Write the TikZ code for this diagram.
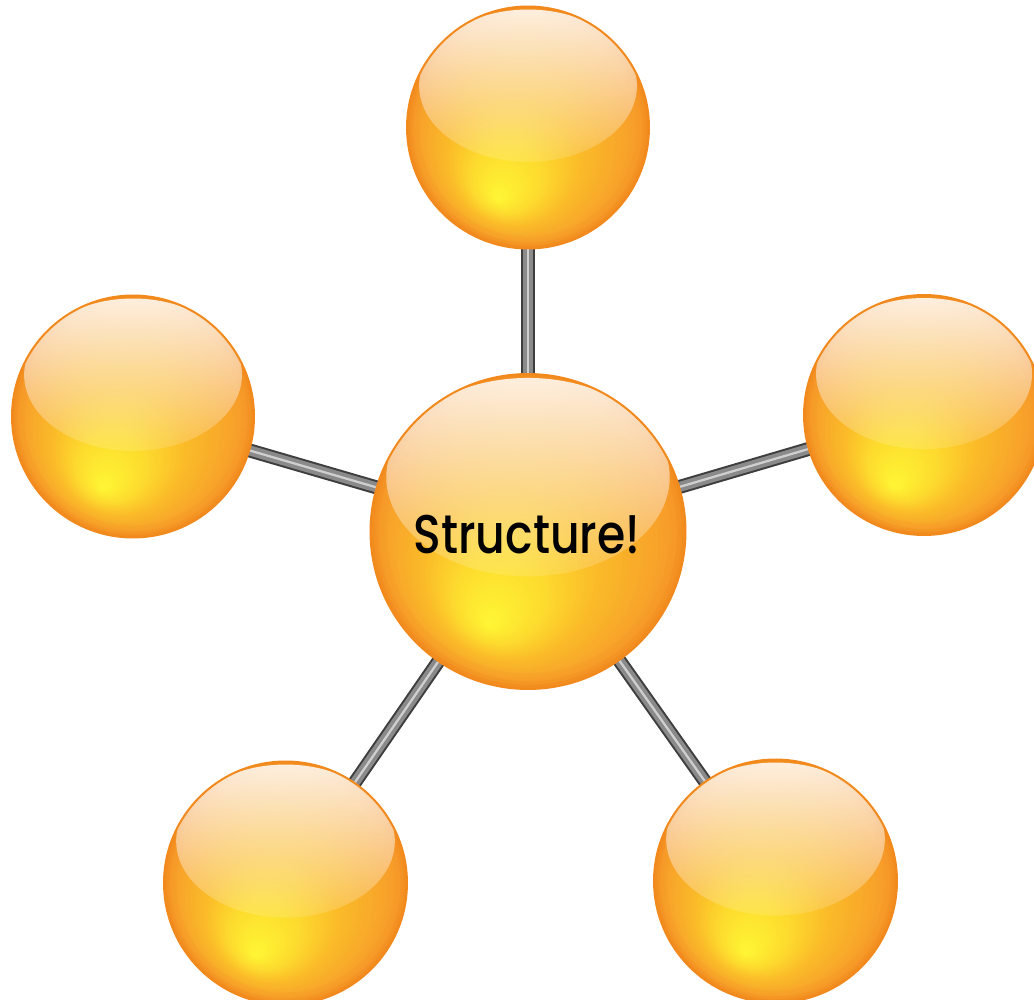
\documentclass[tikz,border=0pt]{standalone}
\usepackage{fontspec}
\setmainfont{Poppins}
\newfontfamily\labelfont{Poppins Medium}[FakeStretch=0.84]
\usetikzlibrary{calc,fadings}
\definecolor{ballA}{HTML}{F6982A}
\definecolor{ballB}{HTML}{FBBD29}
\definecolor{ballC}{HTML}{FDDA2E}
\definecolor{ballD}{HTML}{FFF734}
\definecolor{rimline}{HTML}{F2891C}
\definecolor{rodedge}{HTML}{3E3E3E}
\definecolor{rodmid}{HTML}{8A8A8A}
\definecolor{rodhl}{HTML}{CFCFCF}
\tikzfading[name=glossfade, top color=transparent!15, bottom color=transparent!88]
\newcommand\ballpaint[1]{%
  \begin{scope}[shift={(path picture bounding box.center)}]
    \foreach \i in {0,...,19}{%
      \pgfmathsetmacro\tt{0.46*\i/20}%
      \pgfmathtruncatemacro\mm{100*\i/20}%
      \fill[ballB!\mm!ballA] ({-0.25*\tt*#1*1cm},{-0.6*\tt*#1*1cm}) circle [radius={(1-\tt)*#1*1cm}];
    }
    \foreach \i in {0,...,12}{%
      \pgfmathsetmacro\tt{0.46+0.24*\i/13}%
      \pgfmathtruncatemacro\mm{100*\i/13}%
      \fill[ballC!\mm!ballB] ({-0.25*\tt*#1*1cm},{-0.6*\tt*#1*1cm}) circle [radius={(1-\tt)*#1*1cm}];
    }
    \foreach \i in {0,...,15}{%
      \pgfmathsetmacro\tt{0.7+0.3*\i/16}%
      \pgfmathtruncatemacro\mm{100*\i/16}%
      \fill[ballD!\mm!ballC] ({-0.25*\tt*#1*1cm},{-0.6*\tt*#1*1cm}) circle [radius={(1-\tt)*#1*1cm}];
    }
    \draw[rimline, opacity=0.12, line width={0.1*#1*1cm}] (0,0) circle [radius={0.95*#1*1cm}];
    \draw[rimline, opacity=0.25, line width={0.05*#1*1cm}] (0,0) circle [radius={0.975*#1*1cm}];
    \draw[rimline, opacity=0.5, line width={0.025*#1*1cm}] (0,0) circle [radius={0.9875*#1*1cm}];
    \fill[white, path fading=glossfade] ({0*1cm},{0.345*#1*1cm}) ellipse [x radius={0.9*#1*1cm}, y radius={0.63*#1*1cm}];
  \end{scope}}
\tikzset{
  sphere/.style={circle, inner sep=0pt, fill=ballA,
    draw=rimline, line width=0.04cm, minimum size={2*#1*1cm},
    path picture={\ballpaint{#1}}},
  rod/.style={draw=rodedge, line width=0.28cm,
    postaction={draw=rodmid, line width=0.2cm},
    postaction={draw=rodhl, line width=0.045cm}},
  label/.style={font=\labelfont\fontsize{31}{36}\selectfont, text=black, inner sep=0pt}
}
\begin{document}
\begin{tikzpicture}[x=0.02cm, y=-0.02cm]
  \useasboundingbox (0,0) rectangle (1034,1000);
  \clip (0,0) rectangle (1034,1000);
  \coordinate (pc) at (528,531.5);
  \coordinate (pt) at (528,127.5);
  \coordinate (pl) at (133,416.5);
  \coordinate (pr) at (924,415);
  \coordinate (pbl) at (285.5,883);
  \coordinate (pbr) at (775.5,881);
  \draw[rod] (pc) -- (pt);
  \draw[rod] (pc) -- (pl);
  \draw[rod] (pc) -- (pr);
  \draw[rod] (pc) -- (pbl);
  \draw[rod] (pc) -- (pbr);
  \node[sphere=2.42] (top) at (pt) {};
  \node[sphere=2.42] (left) at (pl) {};
  \node[sphere=2.4] (right) at (pr) {};
  \node[sphere=2.43] (bl) at (pbl) {};
  \node[sphere=2.43] (br) at (pbr) {};
  \node[sphere=3.15] (center) at (pc) {};
  \node[label] (title) at (527,535) {Structure!};
\end{tikzpicture}
\end{document}
